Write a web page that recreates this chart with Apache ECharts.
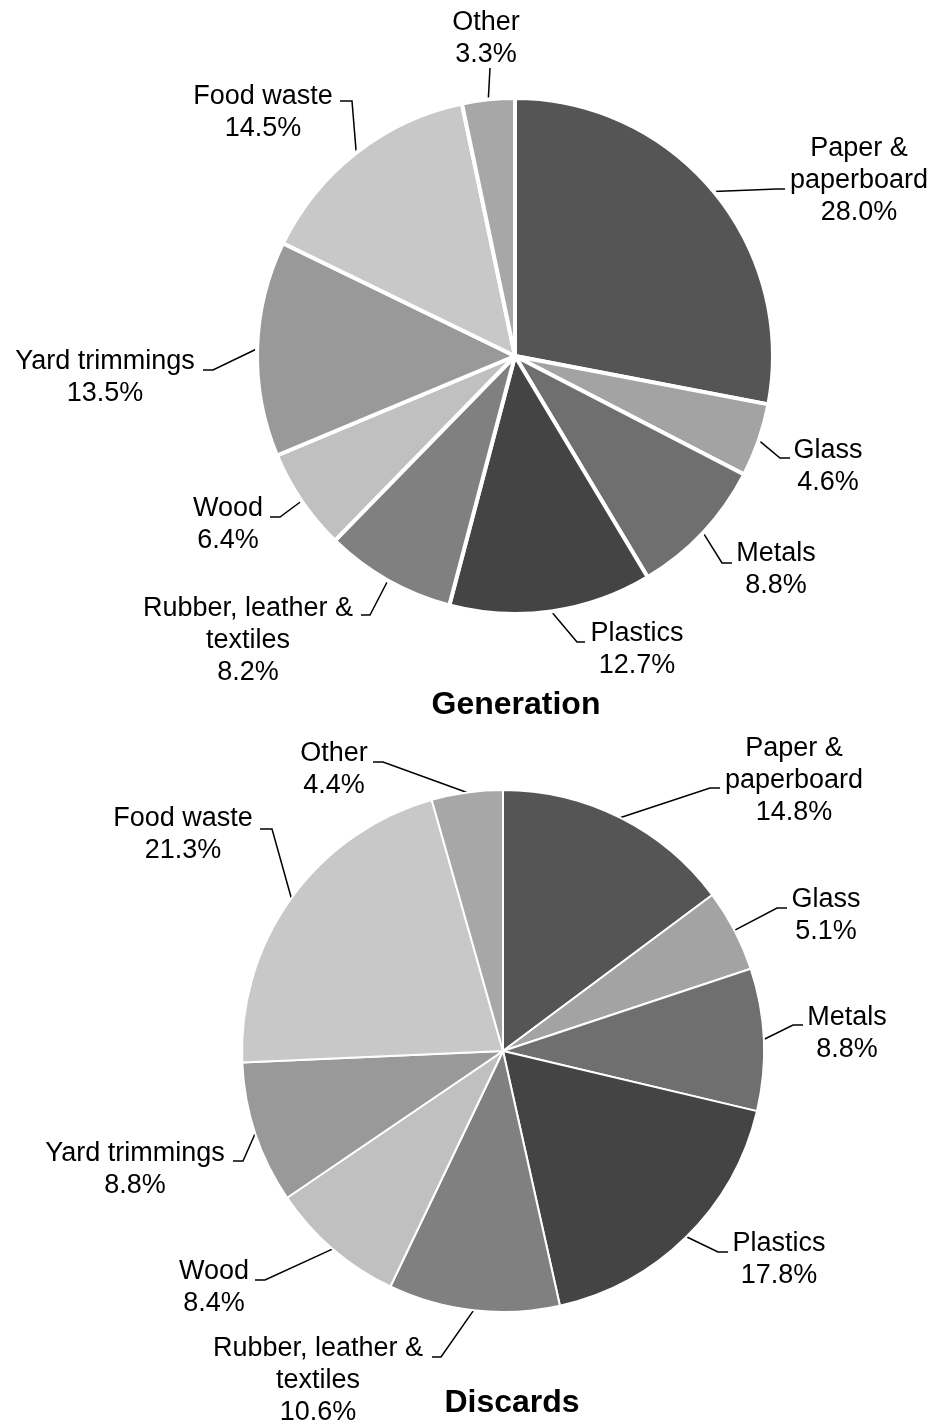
<!DOCTYPE html>
<html>
<head>
<meta charset="utf-8">
<script src="https://cdn.jsdelivr.net/npm/echarts@6/dist/echarts.min.js"></script>
<style>
  html, body { margin: 0; padding: 0; background: #fff; }
  #chart { width: 934px; height: 1427px; }
</style>
</head>
<body>
<div id="chart"></div>
<script>
// slice names, clockwise from 12 o'clock
const categories = ['Paper &\npaperboard', 'Glass', 'Metals', 'Plastics', 'Rubber, leather &\ntextiles', 'Wood', 'Yard trimmings', 'Food waste', 'Other'];
// percent of total
const generation = [28.0, 4.6, 8.8, 12.7, 8.2, 6.4, 13.5, 14.5, 3.3];
const discards = [14.8, 5.1, 8.8, 17.8, 10.6, 8.4, 8.8, 21.3, 4.4];
const sliceColors = ['#555555', '#a3a3a3', '#6f6f6f', '#444444', '#808080', '#c0c0c0', '#999999', '#c8c8c8', '#a7a7a7'];

// label placement: [label x, label y, line end x, line end y, elbow x]
const genLabels = [
  [859, 181, 785, 189, 777],
  [828, 467, 790, 458, 780],
  [776, 570, 732, 563, 722],
  [637, 650, 585, 642, 577],
  [248, 641, 361, 615, 370],
  [228, 525, 270, 517, 280],
  [105, 378, 203, 370, 213],
  [263, 113, 340, 101, 352],
  [486, 39, 490, 68, 490]
];
const disLabels = [
  [794, 781, 720, 788, 710],
  [826, 916, 787, 908, 777],
  [847, 1034, 803, 1025, 793],
  [779, 1260, 728, 1252, 718],
  [318, 1381, 432, 1357, 441],
  [214, 1288, 255, 1280, 265],
  [135, 1170, 233, 1161, 243],
  [183, 835, 260, 829, 272],
  [334, 770, 373, 762, 383]
];

var myChart = echarts.init(document.getElementById('chart'));

function makePie(values, labels, center, radius, border) {
  return {
    type: 'pie',
    center: center,
    radius: radius,
    startAngle: 90,
    clockwise: true,
    avoidLabelOverlap: false,
    emphasis: { disabled: true },
    itemStyle: { borderColor: '#fff', borderWidth: border },
    label: {
      show: true,
      position: 'outside',
      fontFamily: 'Liberation Sans, Arial, sans-serif',
      fontSize: 27,
      lineHeight: 32,
      color: '#000',
      align: 'center',
      formatter: function (p) {
        return p.name + '\n' + p.value.toFixed(1) + '%';
      }
    },
    labelLine: {
      show: true,
      length: 10,
      length2: 10,
      lineStyle: { color: '#000', width: 1.5 }
    },
    labelLayout: function (params) {
      let l = labels[params.dataIndex];
      let start = params.labelLinePoints[0];
      return {
        x: l[0],
        y: l[1],
        align: 'center',
        verticalAlign: 'middle',
        labelLinePoints: [start, [l[4], l[3]], [l[2], l[3]]]
      };
    },
    data: categories.map(function (name, i) {
      return { name: name, value: values[i], itemStyle: { color: sliceColors[i] } };
    })
  };
}

var option = {
  animation: false,
  backgroundColor: '#fff',
  graphic: [
    {
      type: 'text', x: 516, y: 705,
      style: { text: 'Generation', fontFamily: 'Liberation Sans, Arial, sans-serif', fontSize: 32, fontWeight: 'bold', fill: '#000', align: 'center', verticalAlign: 'middle' }
    },
    {
      type: 'text', x: 512, y: 1403,
      style: { text: 'Discards', fontFamily: 'Liberation Sans, Arial, sans-serif', fontSize: 32, fontWeight: 'bold', fill: '#000', align: 'center', verticalAlign: 'middle' }
    }
  ],
  series: [
    makePie(generation, genLabels, [515, 356], 258, 4),
    makePie(discards, disLabels, [503, 1051], 261, 2)
  ]
};

option && myChart.setOption(option);
</script>
</body>
</html>
